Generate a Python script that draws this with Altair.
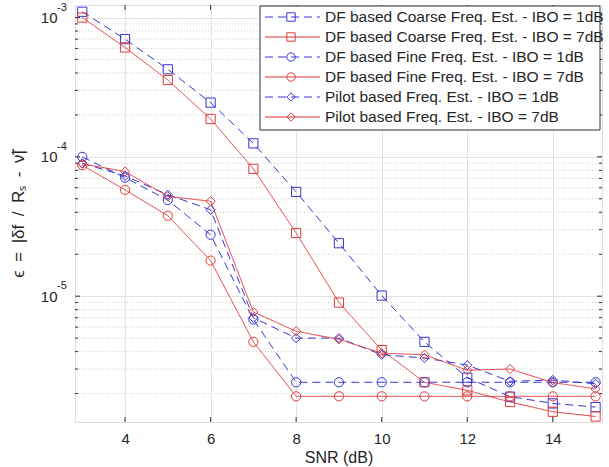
import altair as alt
import pandas as pd

# ---------------- data ----------------
snr = [3, 4, 5, 6, 7, 8, 9, 10, 11, 12, 13, 14, 15]

names = [
    "DF based Coarse Freq. Est. - IBO = 1dB",
    "DF based Coarse Freq. Est. - IBO = 7dB",
    "DF based Fine Freq. Est. - IBO = 1dB",
    "DF based Fine Freq. Est. - IBO = 7dB",
    "Pilot based Freq. Est. - IBO = 1dB",
    "Pilot based Freq. Est. - IBO = 7dB",
]

coarse_1db = [1.1e-3, 7.0e-4, 4.25e-4, 2.45e-4, 1.25e-4, 5.6e-5, 2.4e-5, 1.01e-5, 4.7e-6, 2.6e-6, 1.9e-6, 1.7e-6, 1.6e-6]
coarse_7db = [1.0e-3, 6.1e-4, 3.56e-4, 1.87e-4, 8.2e-5, 2.84e-5, 9.0e-6, 4.1e-6, 2.41e-6, 2.11e-6, 1.74e-6, 1.48e-6, 1.37e-6]
fine_1db = [1.0e-4, 7.1e-5, 4.9e-5, 2.76e-5, 6.8e-6, 2.41e-6, 2.41e-6, 2.41e-6, 2.41e-6, 2.41e-6, 2.41e-6, 2.41e-6, 2.41e-6]
fine_7db = [8.7e-5, 5.8e-5, 3.78e-5, 1.8e-5, 4.7e-6, 1.91e-6, 1.91e-6, 1.91e-6, 1.91e-6, 1.91e-6, 1.91e-6, 1.91e-6, 1.91e-6]
pilot_1db = [9.0e-5, 7.3e-5, 5.35e-5, 4.17e-5, 7.0e-6, 5.0e-6, 5.0e-6, 3.8e-6, 3.6e-6, 3.2e-6, 2.45e-6, 2.5e-6, 2.35e-6]
pilot_7db = [8.9e-5, 7.85e-5, 5.2e-5, 4.8e-5, 7.7e-6, 5.6e-6, 4.9e-6, 3.9e-6, 3.8e-6, 2.94e-6, 3.0e-6, 2.4e-6, 2.16e-6]

series_values = [coarse_1db, coarse_7db, fine_1db, fine_7db, pilot_1db, pilot_7db]

x_ticks = [4, 6, 8, 10, 12, 14]
y_ticks = [1e-5, 1e-4, 1e-3]
y_exponents = ["-5", "-4", "-3"]
y_minor = [m * 10.0 ** e for e in (-6, -5, -4) for m in range(2, 10)]

# ---------------- styles ----------------
BLUE = "#3636d4"
RED = "#e23a3a"
colors = [BLUE, RED, BLUE, RED, BLUE, RED]
shapes = ["square", "square", "circle", "circle", "diamond", "diamond"]
dashes = [[8, 5], [1, 0], [8, 5], [1, 0], [8, 5], [1, 0]]
FONT = "Liberation Sans"
AX = "#303030"
TXT = "#262626"
SP = "\u2002"

W, H = 527, 417

rows = []
for n, vals in zip(names, series_values):
    for s, v in zip(snr, vals):
        rows.append({"series": n, "snr": s, "eps": v})
data = pd.DataFrame(rows)

color_enc = alt.Color("series:N", scale=alt.Scale(domain=names, range=colors), legend=None)
dash_enc = alt.StrokeDash("series:N", scale=alt.Scale(domain=names, range=dashes), legend=None)
shape_enc = alt.Shape("series:N", scale=alt.Scale(domain=names, range=shapes), legend=None)

x_scale = alt.Scale(domain=[2.83, 15.15], nice=False, zero=False)
y_scale = alt.Scale(type="log", domain=[1.25e-6, 1.23e-3], nice=False)

y_title = SP.join(["ϵ", "=", "|δf", "/", "Rₛ", "-", "ν̃|"])

x_axis = alt.Axis(values=x_ticks, title="SNR (dB)", grid=True, ticks=False, domain=False,
                  labelPadding=9, titlePadding=3, gridColor="#e3e3e3", labelFontSize=15,
                  titleFontSize=16, titleFontWeight="normal", labelFont=FONT, titleFont=FONT,
                  labelColor=TXT, titleColor=TXT)
y_axis = alt.Axis(values=y_ticks, title=y_title, grid=True, ticks=False, domain=False,
                  labelExpr="'10'", labelPadding=18, titlePadding=13, gridColor="#e3e3e3",
                  labelFontSize=15, titleFontSize=17, titleFontWeight="normal",
                  labelFont=FONT, titleFont=FONT, labelColor=TXT, titleColor=TXT)

x_enc = alt.X("snr:Q", scale=x_scale, axis=x_axis)
y_enc = alt.Y("eps:Q", scale=y_scale, axis=y_axis)

# minor dotted grid
minor_grid = alt.Chart(pd.DataFrame({"eps": y_minor})).mark_rule(
    color="#cdcdcd", strokeDash=[1, 2], strokeWidth=1
).encode(y=y_enc)

lines = alt.Chart(data).mark_line(strokeWidth=1).encode(
    x=x_enc, y=y_enc, color=color_enc, strokeDash=dash_enc
)
points = alt.Chart(data).mark_point(filled=False, size=85, strokeWidth=1, opacity=1).encode(
    x=x_enc, y=y_enc, color=color_enc, shape=shape_enc,
)

# exponent of the y tick labels (10^-k)
yexp = pd.DataFrame({"eps": y_ticks, "ex": y_exponents})
y_exp_txt = alt.Chart(yexp).mark_text(
    align="left", baseline="middle", fontSize=11, font=FONT, color=TXT, dy=-10
).encode(y=y_enc, x=alt.value(-18), text="ex:N")

# inward ticks (box style)
xt = pd.DataFrame({"snr": x_ticks})
x_tick_b = alt.Chart(xt).mark_rule(color=AX).encode(x=x_enc, y=alt.value(H), y2=alt.value(H - 5))
x_tick_t = alt.Chart(xt).mark_rule(color=AX).encode(x=x_enc, y=alt.value(0), y2=alt.value(5))
yt = pd.DataFrame({"eps": y_ticks})
ym = pd.DataFrame({"eps": y_minor})
y_tick_l = alt.Chart(yt).mark_rule(color=AX).encode(y=y_enc, x=alt.value(0), x2=alt.value(5))
y_tick_r = alt.Chart(yt).mark_rule(color=AX).encode(y=y_enc, x=alt.value(W), x2=alt.value(W - 5))
y_mtick_l = alt.Chart(ym).mark_rule(color=AX).encode(y=y_enc, x=alt.value(0), x2=alt.value(3))
y_mtick_r = alt.Chart(ym).mark_rule(color=AX).encode(y=y_enc, x=alt.value(W), x2=alt.value(W - 3))

main = alt.layer(minor_grid, x_tick_b, x_tick_t, y_tick_l, y_tick_r, y_mtick_l, y_mtick_r,
                 y_exp_txt, lines, points)

# ---------------- legend (drawn box) ----------------
leg = pd.DataFrame({"series": names, "ly": [12 + 20 * i for i in range(len(names))]})
ly_enc = alt.Y("ly:Q", scale=None, axis=None)

leg_box = alt.Chart(pd.DataFrame({"a": [0]})).mark_rect(
    fill="white", stroke=AX, strokeWidth=1
).encode(x=alt.value(185), x2=alt.value(525), y=alt.value(1), y2=alt.value(125))
leg_line = alt.Chart(leg).mark_rule(strokeWidth=1).encode(
    x=alt.value(190), x2=alt.value(245), y=ly_enc, color=color_enc, strokeDash=dash_enc)
leg_pt = alt.Chart(leg).mark_point(filled=False, size=70, strokeWidth=1, opacity=1).encode(
    x=alt.value(216), y=ly_enc, color=color_enc, shape=shape_enc)
leg_txt = alt.Chart(leg).mark_text(
    align="left", baseline="middle", fontSize=15.5, font=FONT, color=TXT
).encode(x=alt.value(250), y=ly_enc, text="series:N")

legend = alt.layer(leg_box, leg_line, leg_pt, leg_txt)

chart = alt.layer(main, legend).resolve_scale(x="independent", y="independent").properties(
    width=W, height=H,
    autosize=alt.AutoSizeParams(type="none"),
    padding={"left": 75, "top": 5, "right": 7, "bottom": 45},
).configure_view(stroke=AX, strokeWidth=1).configure(background="white")

chart.save("out.html", embed_options={"renderer": "svg", "actions": False})
